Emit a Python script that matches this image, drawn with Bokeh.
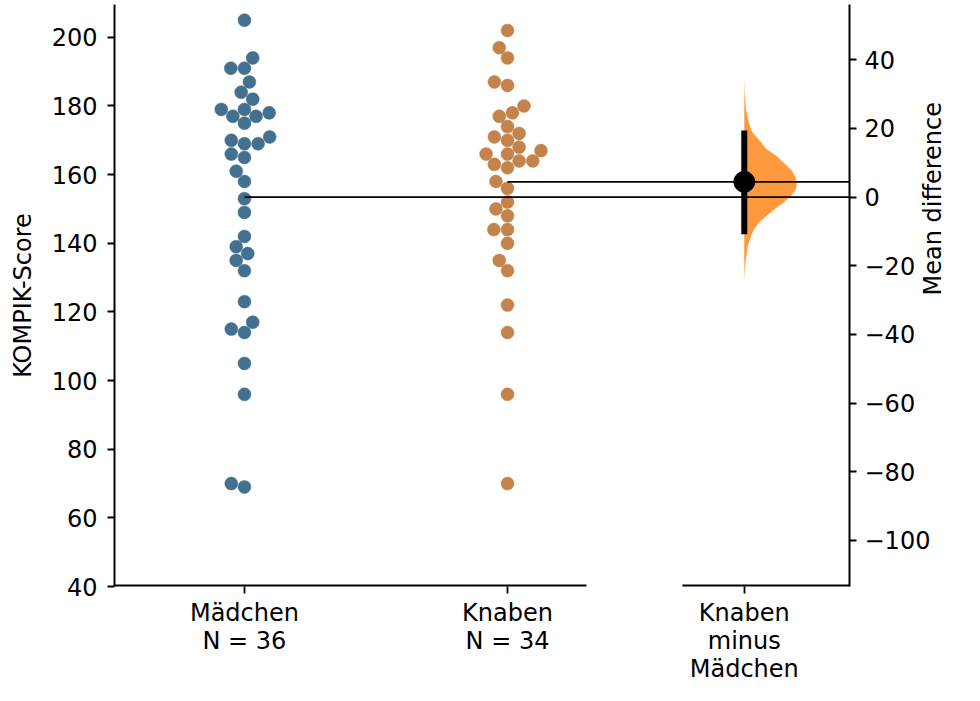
import math
import numpy as np
from bokeh.plotting import figure
from bokeh.models import Range1d, LinearAxis, FixedTicker
from bokeh.embed import file_html
from bokeh.resources import INLINE

# ---------------- data ----------------
maedchen = [205, 194, 191, 191, 187, 184, 182, 179, 179, 178, 177, 177, 175, 171,
            170, 169, 169, 166, 165, 161, 158, 153, 149, 142, 139, 137, 135, 132,
            123, 117, 115, 114, 105, 96, 70, 69]
knaben = [202, 197, 194, 187, 186, 180, 177, 178, 174, 171, 172, 170, 168, 166,
          166, 167, 163, 162, 164, 164, 158, 156, 152, 150, 148, 144, 144, 140,
          135, 132, 122, 114, 96, 70]
group_names = ["Mädchen", "Knaben"]
contrast_label = "Knaben\nminus\nMädchen"
ci_low = -10.8
ci_high = 19.4
boot_diff = [34.5, 30, 26, 22, 19, 16.7, 14, 11.9, 10, 8, 6, 3.7, 2, 0.3, -1.5,
             -3.6, -5.5, -7.4, -9.5, -11.3, -14, -17.1, -20, -24.3]
boot_density = [0, 0.01, 0.03, 0.08, 0.15, 0.28, 0.42, 0.62, 0.75, 0.89, 0.97, 1.0,
                0.97, 0.89, 0.75, 0.57, 0.42, 0.28, 0.18, 0.13, 0.07, 0.04, 0.015, 0]
left_ticks = [40, 60, 80, 100, 120, 140, 160, 180, 200]
right_ticks = [-100, -80, -60, -40, -20, 0, 20, 40]

# ---------------- layout ----------------
W, H = 964, 685
B_LEFT, B_RIGHT, B_TOP, B_BOTTOM = 114, 115, 4, 96
FRAME_W = W - B_LEFT - B_RIGHT
FRAME_H = H - B_TOP - B_BOTTOM
X_START, X_END = -0.494, 2.300
Y_START, Y_END = 40, 209.57
CONTRAST_X = 1.9
GROUP_RIGHT = 1.30
CONTRAST_LEFT = 1.665
VIOLIN_W = 0.2
MARKER = 13.0
FONT = "DejaVu Sans"
BLUE = "#44708F"
ORANGE = "#C3834A"

px_x = FRAME_W / (X_END - X_START)
px_y = FRAME_H / (Y_END - Y_START)


def swarm_offsets(values, r):
    """seaborn-style beeswarm, in pixel space; returns x offsets in px"""
    ys = np.asarray(values, float) * px_y
    order = np.argsort(ys, kind="mergesort")
    placed = []
    out = np.zeros(len(ys))
    for idx in order:
        y = ys[idx]
        neighbors = []
        for xj, yj in reversed(placed):
            if y - yj < 2 * r:
                neighbors.append((xj, yj))
            else:
                break
        cands = [0.0]
        left_first = True
        for xj, yj in neighbors:
            dy = y - yj
            dx = math.sqrt(max((2 * r) ** 2 - dy ** 2, 0)) * 1.05
            cands += [xj - dx, xj + dx] if left_first else [xj + dx, xj - dx]
            left_first = not left_first
        cands = sorted(cands, key=abs)
        chosen = cands[0]
        for c in cands:
            if all((xj - c) ** 2 + (yj - y) ** 2 >= (2 * r) ** 2 - 1e-9 for xj, yj in neighbors):
                chosen = c
                break
        placed.append((chosen, y))
        out[idx] = chosen
    return out


groups = [maedchen, knaben]
colors = [BLUE, ORANGE]
means = [float(np.mean(g)) for g in groups]
mean_diff = means[1] - means[0]

p = figure(width=W, height=H,
           x_range=Range1d(X_START, X_END), y_range=Range1d(Y_START, Y_END),
           output_backend="svg", toolbar_location=None,
           min_border_left=B_LEFT, min_border_right=B_RIGHT,
           min_border_top=B_TOP, min_border_bottom=B_BOTTOM)
p.outline_line_color = None
p.grid.visible = False
p.extra_y_ranges = {"diff": Range1d(Y_START - means[0], Y_END - means[0])}

# swarms
for i, (g, c) in enumerate(zip(groups, colors)):
    offs = swarm_offsets(g, MARKER / 2)
    xs = [i + o / px_x for o in offs]
    p.scatter(x=xs, y=g, size=MARKER, fill_color=c, line_color=c, line_width=0.5)

# half violin of bootstrap distribution
vx = [CONTRAST_X + d * VIOLIN_W for d in boot_density]
p.patch(x=vx + [CONTRAST_X], y=boot_diff + [boot_diff[0]], y_range_name="diff",
        fill_color="#ff7f0e", fill_alpha=0.8, line_color=None)

# mean reference lines
p.segment(x0=[0, 1], y0=means, x1=[X_END, X_END], y1=means,
          line_color="black", line_width=1.8)

# effect size + CI
p.segment(x0=[CONTRAST_X], x1=[CONTRAST_X], y0=[ci_low], y1=[ci_high],
          y_range_name="diff", line_color="black", line_width=6)
p.scatter(x=[CONTRAST_X], y=[mean_diff], y_range_name="diff", size=21,
          fill_color="black", line_color="black")

# bottom spine pieces
p.segment(x0=[X_START, CONTRAST_LEFT], x1=[GROUP_RIGHT, X_END],
          y0=[Y_START, Y_START], y1=[Y_START, Y_START],
          line_color="black", line_width=4)

# left axis
ya = p.yaxis[0]
ya.ticker = FixedTicker(ticks=left_ticks)
ya.axis_label = "KOMPIK-Score"

# right axis
ra = LinearAxis(y_range_name="diff", ticker=FixedTicker(ticks=right_ticks),
                axis_label="Mean difference")
ra.major_label_overrides = {t: str(t).replace("-", "\u2212") for t in right_ticks}
if "axis_label_orientation" in LinearAxis.properties():
    ra.axis_label_orientation = math.pi / 2
p.add_layout(ra, "right")

# bottom axis
xa = p.xaxis[0]
xa.ticker = FixedTicker(ticks=[0, 1, CONTRAST_X])
xa.major_label_overrides = {
    0: f"{group_names[0]}\nN = {len(maedchen)}",
    1: f"{group_names[1]}\nN = {len(knaben)}",
    CONTRAST_X: contrast_label,
}
xa.axis_line_color = None

for ax in (ya, ra, xa):
    ax.major_label_text_font = FONT
    ax.major_label_text_font_size = "24px"
    ax.major_label_text_color = "black"
    ax.axis_label_text_font = FONT
    ax.axis_label_text_font_size = "24px"
    ax.axis_label_text_font_style = "normal"
    ax.axis_label_text_color = "black"
    ax.major_tick_in = 0
    ax.major_tick_out = 7
    ax.major_tick_line_width = 1.8
    ax.major_tick_line_color = "black"
    ax.minor_tick_line_color = None
    ax.major_label_standoff = 10
for ax in (ya, ra):
    ax.axis_line_width = 2
    ax.axis_line_color = "black"
ya.axis_label_standoff = 12
ra.major_label_standoff = 8
ra.axis_label_standoff = 0
xa.major_label_standoff = 5
xa.major_label_text_line_height = 1.0

open("out.html", "w").write(file_html(p, INLINE))
